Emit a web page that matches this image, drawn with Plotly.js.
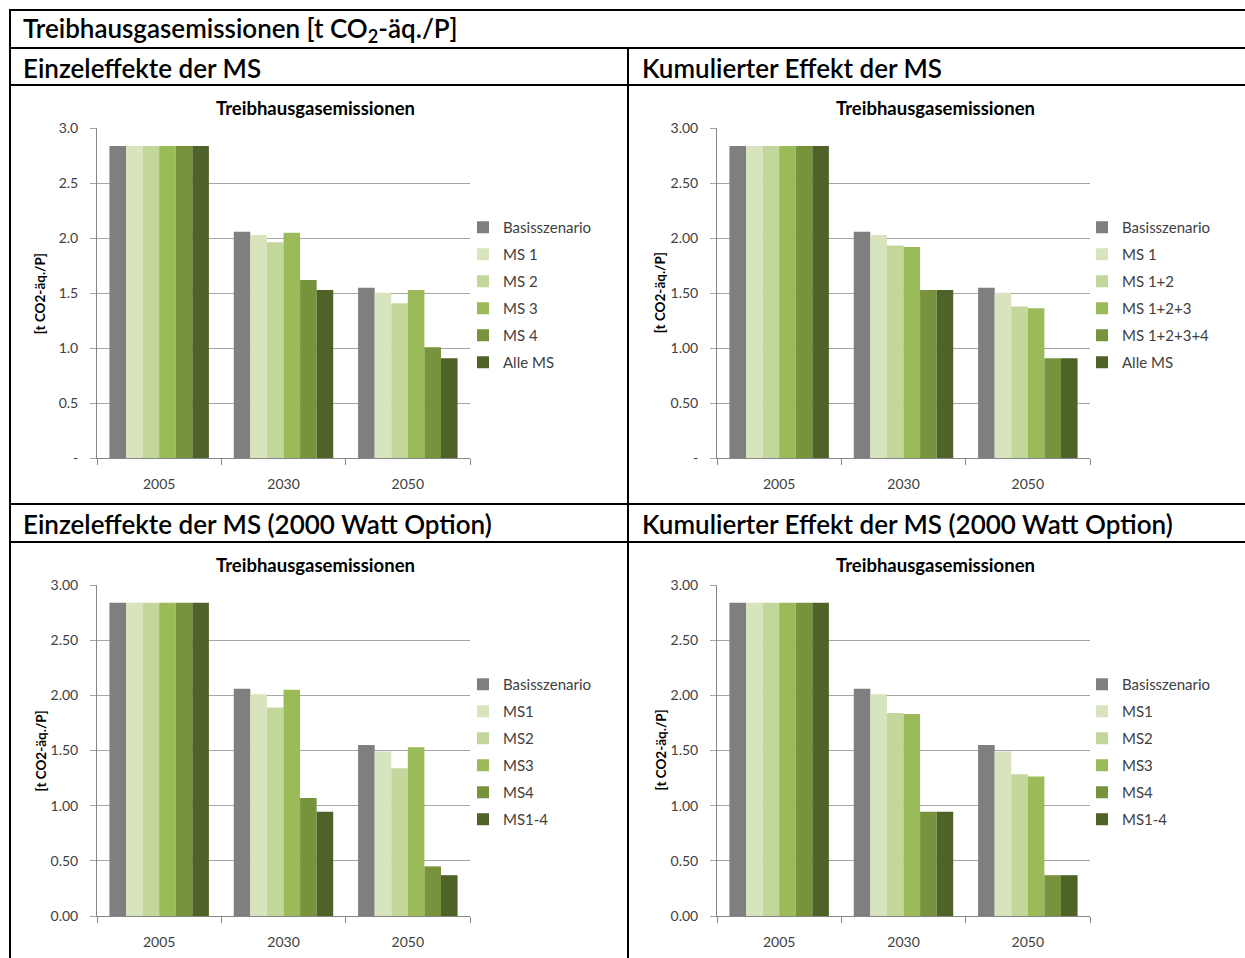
<!DOCTYPE html>
<html>
<head>
<meta charset="utf-8">
<script src="https://cdn.plot.ly/plotly-3.0.1.min.js"></script>
<style>
  html, body { margin: 0; padding: 0; background: #ffffff; }
  #chart { width: 1245px; height: 958px; }
</style>
</head>
<body>
<div id="chart"></div>
<script>
// Treibhausgasemissionen pro Person, vier Szenarienvarianten
const years = ['2005', '2030', '2050'];

// Einzeleffekte der MS
const einzelBasis = [2.84, 2.06, 1.55];
const einzelMS1   = [2.84, 2.03, 1.505];
const einzelMS2   = [2.84, 1.965, 1.41];
const einzelMS3   = [2.84, 2.05, 1.53];
const einzelMS4   = [2.84, 1.62, 1.01];
const einzelAlle  = [2.84, 1.53, 0.91];
const einzelNames = ['Basisszenario', 'MS 1', 'MS 2', 'MS 3', 'MS 4', 'Alle MS'];

// Kumulierter Effekt der MS
const kumBasis   = [2.84, 2.06, 1.55];
const kumMS1     = [2.84, 2.03, 1.505];
const kumMS12    = [2.84, 1.935, 1.38];
const kumMS123   = [2.84, 1.92, 1.365];
const kumMS1234  = [2.84, 1.53, 0.91];
const kumAlle    = [2.84, 1.53, 0.91];
const kumNames = ['Basisszenario', 'MS 1', 'MS 1+2', 'MS 1+2+3', 'MS 1+2+3+4', 'Alle MS'];

// Einzeleffekte der MS (2000 Watt Option)
const wEinzelBasis = [2.84, 2.06, 1.55];
const wEinzelMS1   = [2.84, 2.01, 1.49];
const wEinzelMS2   = [2.84, 1.89, 1.34];
const wEinzelMS3   = [2.84, 2.05, 1.53];
const wEinzelMS4   = [2.84, 1.07, 0.45];
const wEinzelMS14  = [2.84, 0.945, 0.37];

// Kumulierter Effekt der MS (2000 Watt Option)
const wKumBasis = [2.84, 2.06, 1.55];
const wKumMS1   = [2.84, 2.01, 1.49];
const wKumMS2   = [2.84, 1.84, 1.285];
const wKumMS3   = [2.84, 1.83, 1.265];
const wKumMS4   = [2.84, 0.945, 0.37];
const wKumMS14  = [2.84, 0.945, 0.37];
const wattNames = ['Basisszenario', 'MS1', 'MS2', 'MS3', 'MS4', 'MS1-4'];

const yTickVals = [0, 0.5, 1, 1.5, 2, 2.5, 3];
const yTicksOneDecimal = ['-', '0.5', '1.0', '1.5', '2.0', '2.5', '3.0'];
const yTicksTwoDecimalsDash = ['-', '0.50', '1.00', '1.50', '2.00', '2.50', '3.00'];
const yTicksTwoDecimals = ['0.00', '0.50', '1.00', '1.50', '2.00', '2.50', '3.00'];

const palette = ['#7f7f7f', '#d7e4bd', '#c3d69b', '#9bbb59', '#77933c', '#4f6228'];

const W = 1245, H = 958;
const px = v => v / W;
const py = v => 1 - v / H;

const FONT = 'Lato, "Open Sans", sans-serif';
const TEXT_GREY = '#404040';

const panels = [
  { series: [einzelBasis, einzelMS1, einzelMS2, einzelMS3, einzelMS4, einzelAlle], names: einzelNames,
    ticks: yTicksOneDecimal, xa: 'x', ya: 'y', legend: 'legend',
    plot: [97, 470, 128.3, 458.3], legendPos: [463, 211] },
  { series: [kumBasis, kumMS1, kumMS12, kumMS123, kumMS1234, kumAlle], names: kumNames,
    ticks: yTicksTwoDecimalsDash, xa: 'x2', ya: 'y2', legend: 'legend2',
    plot: [717, 1090, 128.3, 458.3], legendPos: [1082, 211] },
  { series: [wEinzelBasis, wEinzelMS1, wEinzelMS2, wEinzelMS3, wEinzelMS4, wEinzelMS14], names: wattNames,
    ticks: yTicksTwoDecimals, xa: 'x3', ya: 'y3', legend: 'legend3',
    plot: [97, 470, 585, 916], legendPos: [463, 668] },
  { series: [wKumBasis, wKumMS1, wKumMS2, wKumMS3, wKumMS4, wKumMS14], names: wattNames,
    ticks: yTicksTwoDecimals, xa: 'x4', ya: 'y4', legend: 'legend4',
    plot: [717, 1090, 585, 916], legendPos: [1082, 668] }
];

const traces = [];
const layout = {
  width: W, height: H,
  margin: { l: 0, r: 0, t: 0, b: 0 },
  paper_bgcolor: '#ffffff', plot_bgcolor: '#ffffff',
  font: { family: FONT, color: TEXT_GREY },
  barmode: 'group', bargap: 0.2, bargroupgap: 0,
  showlegend: true,
  annotations: [], shapes: []
};

panels.forEach((p, pi) => {
  p.series.forEach((vals, si) => {
    traces.push({
      type: 'bar', x: years, y: vals, name: p.names[si],
      xaxis: p.xa, yaxis: p.ya, legend: p.legend,
      legendgroup: 'p' + pi + '_' + si,
      marker: { color: palette[si], line: { width: 0 } },
      hoverinfo: 'name+y'
    });
  });

  const sfx = pi === 0 ? '' : String(pi + 1);
  const [x0, x1, yTop, yBot] = p.plot;
  layout['xaxis' + sfx] = {
    domain: [px(x0), px(x1)], anchor: p.ya, type: 'category',
    showline: true, linecolor: '#868686', linewidth: 1,
    ticks: 'outside', tickson: 'boundaries', ticklen: 6, tickcolor: '#868686',
    tickfont: { family: FONT, size: 14, color: TEXT_GREY },
    ticklabelstandoff: 13, showgrid: false, zeroline: false, fixedrange: true
  };
  layout['yaxis' + sfx] = {
    domain: [py(yBot), py(yTop)], anchor: p.xa, range: [0, 3],
    tickmode: 'array', tickvals: yTickVals, ticktext: p.ticks,
    showline: true, linecolor: '#868686', linewidth: 1,
    ticks: 'outside', ticklen: 6, tickcolor: '#a6a6a6',
    showgrid: true, gridcolor: '#a6a6a6', gridwidth: 1, zeroline: false,
    tickfont: { family: FONT, size: 14, color: TEXT_GREY },
    ticklabelstandoff: 9, fixedrange: true
  };
  layout[p.legend] = {
    x: px(p.legendPos[0]), y: py(p.legendPos[1]), xanchor: 'left', yanchor: 'top',
    traceorder: 'grouped', tracegroupgap: 4.5,
    font: { family: FONT, size: 15, color: TEXT_GREY },
    bgcolor: 'rgba(0,0,0,0)', borderwidth: 0, itemclick: false, itemdoubleclick: false
  };

  // Diagrammtitel und Achsentitel
  const cx = pi % 2 === 0 ? 315 : 935;
  const ty = pi < 2 ? 108 : 565;
  layout.annotations.push({
    text: '<b>Treibhausgasemissionen</b>', xref: 'paper', yref: 'paper',
    x: px(cx), y: py(ty), xanchor: 'center', yanchor: 'middle', showarrow: false,
    font: { family: FONT, size: 18.5, color: '#000000' }
  });
  layout.annotations.push({
    text: '<b>[t CO2-äq./P]</b>', xref: 'paper', yref: 'paper', textangle: -90,
    x: px(x0 - 57), y: py((yTop + yBot) / 2), xanchor: 'center', yanchor: 'middle', showarrow: false,
    font: { family: FONT, size: 13.5, color: '#000000' }
  });
});

// Tabellenüberschriften
const headers = [
  { text: 'Treibhausgasemissionen [t CO<sub>2</sub>-äq./P]', x: 21, y: 30 },
  { text: 'Einzeleffekte der MS', x: 21, y: 68 },
  { text: 'Kumulierter Effekt der MS', x: 640, y: 68 },
  { text: 'Einzeleffekte der MS (2000 Watt Option)', x: 21, y: 524 },
  { text: 'Kumulierter Effekt der MS (2000 Watt Option)', x: 640, y: 524 }
];
headers.forEach(h => layout.annotations.push({
  text: h.text, xref: 'paper', yref: 'paper', x: px(h.x), y: py(h.y),
  xanchor: 'left', yanchor: 'middle', showarrow: false,
  font: { family: FONT, size: 26, weight: 600, color: '#000000' }
}));

// Tabellenrahmen
const rule = { color: '#000000', width: 2 };
[10, 48, 85, 504, 542].forEach(yy => layout.shapes.push({
  type: 'line', xref: 'paper', yref: 'paper',
  x0: px(9), x1: 1, y0: py(yy), y1: py(yy), line: rule
}));
layout.shapes.push({ type: 'line', xref: 'paper', yref: 'paper',
  x0: px(10), x1: px(10), y0: py(9), y1: 0, line: rule });
layout.shapes.push({ type: 'line', xref: 'paper', yref: 'paper',
  x0: px(628), x1: px(628), y0: py(48), y1: 0, line: rule });

Plotly.newPlot('chart', traces, layout, { displayModeBar: false, staticPlot: true });
</script>
</body>
</html>
